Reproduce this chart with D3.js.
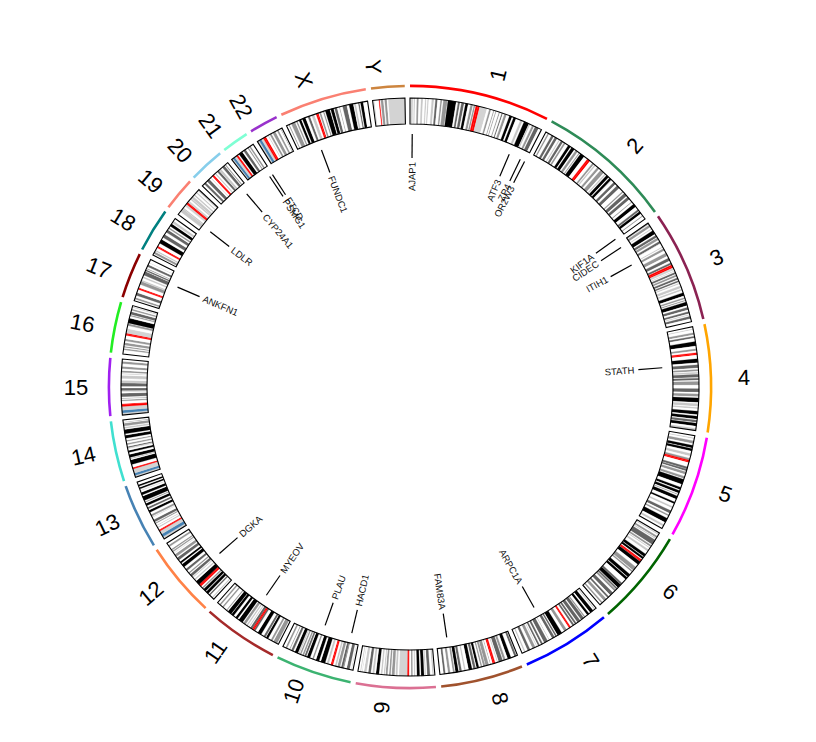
<!DOCTYPE html>
<html><head><meta charset="utf-8">
<script src="https://cdn.jsdelivr.net/npm/d3@7"></script>
<style>html,body{margin:0;padding:0;background:#fff;}</style>
</head><body><svg id="chart" width="816" height="742"></svg>
<script>
// ---------------- DATA ----------------
const chrNames = ["1","2","3","4","5","6","7","8","9","10","11","12","13","14","15","16","17","18","19","20","21","22","X","Y"];
const chrLengths = [249.25,243.2,198.02,191.15,180.92,171.12,159.14,146.36,141.21,135.53,135.01,133.85,115.17,107.35,102.53,90.35,81.2,78.08,59.13,63.03,48.13,51.3,155.27,59.37]; // Mb
const chrColors = ["#FF0000","#2E8B57","#8B2252","#FFA500","#FF00FF","#006400","#0000FF","#A0522D","#DB7093","#3CB371","#A52A2A","#FF8247","#4682B4","#40E0D0","#A020F0","#22EE22","#8B0000","#008080","#FA8072","#87CEEB","#7FFFD4","#9932CC","#FA8072","#CD853F"];

// Cytobands: "endMb+stain" ; n=gneg a=gpos25 b=gpos50 c=gpos75 d=gpos100 A=acen v=gvar s=stalk
const bandsChr1 = "2.3n 5.4a 7.2n 9.2a 12.7n 16.2b 20.4n 23.9a 28n 30.2a 32.4n 34.6a 40.1n 44.1a 46.8n 50.7c 56.1n 59b 61.3n 68.9b 69.7n 84.9d 88.4n 92c 94.7n 99.7c 102.2n 107.2d 111.8n 116.1b 117.8n 120.6b 121.5n 125A 128.9A 142.6v 147n 150.3b 155n 156.5b 159.1n 160.5b 165.5n 167.2b 170.9n 172.9c 176n 180.3b 185.8n 190.8d 193.8n 198.7d 207.2n 211.5a 214.5n 224.1d 224.6n 227a 230.7n 234.7b 236.6n 243.7c 249.25n";
const bandsChr2 = "4.4n 7.1b 12.2n 16.7c 19.2n 24c 27.9n 30a 32.1n 36.6c 38.6n 41.8b 47.8n 52.9d 55n 61.3d 64.1n 68.6b 71.5n 73.5b 75n 83.3d 90.5n 93.3A 96.8A 102.7n 106b 107.5n 110.2a 114.4n 118.8b 122.4n 129.9b 132.5n 135.1a 136.8n 142.2d 144.1n 148.7d 149.9n 150.5a 154.9n 159.8c 163.7n 169.7c 178n 180.6b 183n 189.4c 191.9n 197.4c 203.3n 204.9b 209n 215.3d 221.5n 225.2c 226.1n 231d 235.6n 237.3b 243.2n";
const bandsChr3 = "2.8b 4n 8.7b 11.8n 13.3a 16.4n 23.9d 26.4n 30.9c 32.1n 36.5b 39.4n 43.7c 44.1n 44.2b 50.6n 52.3a 54.4n 58.6b 63.7n 69.8b 74.2n 79.8c 83.5n 87.2c 87.9n 91A 93.9A 98.3v 100n 100.9a 102.8n 106.2c 107.9n 111.3b 113.5n 117.3c 119n 121.9c 123.8n 125.8a 129.2n 133.7a 135.7n 138.7a 142.8n 148.9d 152.1n 155b 157n 159b 160.7n 167.6d 170.9n 175.7c 179n 182.7c 184.5n 186a 187.9n 192.3c 198.02n";
const bandsChr4 = "4.5n 6a 11.3n 15.2b 17.8n 21.3c 27.7n 35.8d 41.2n 44.6b 48.2n 50.4A 52.7A 59.5n 66.6d 70.5n 76.3c 78.9n 82.4b 84.1n 86.9a 88n 93.7c 95.1n 98.8c 101.1n 107.7b 114.1n 120.8c 123.8n 128.8b 131.1n 139.5d 141.5n 146.8a 148.5n 151.1a 155.6n 161.8d 164.5n 170.1d 171.9n 176.3c 177.5n 183.2d 187.1n 191.15a";
const bandsChr5 = "4.5n 6.3a 9.8n 15b 18.4n 23.3d 24.6n 28.9d 33.8n 38.4a 42.5n 46.1b 48.4A 50.7A 58.9n 62.9c 63.2n 66.7c 68.4n 73.3b 76.9n 81.4b 82.8n 92.3d 98.2n 102.8d 104.5n 109.6d 111.5n 113.1b 115.2n 121.4d 127.3n 130.6d 136.2n 139.5a 144.5n 149.8c 152.7n 155.7b 159.9n 168.5d 172.8n 176.6a 180.92n";
const bandsChr6 = "2.3n 4.2a 7.1n 10.6b 11.6n 13.4a 15.2n 25.2c 27n 30.4b 32.1n 33.5a 36.6n 40.5a 46.2n 51.8d 52.9n 57d 58.7n 61A 63.3A 63.4n 70d 75.9n 83.9b 84.9n 88b 93.1n 99.5d 100.6n 105.5d 114.6n 118.3c 118.5n 126.1d 127.1n 130.3c 131.2n 135.2b 139n 145.6c 149n 152.5c 155.5n 161b 164.5n 167.5b 171.12n";
const bandsChr7 = "2.8n 4.5a 7.3n 13.8d 16.5n 20.9d 25.5n 28b 28.8n 35c 37.2n 43.3c 45.4n 49c 50.5n 54c 58n 59.9A 61.7A 67n 72.2b 77.5n 86.4d 88.2n 91.1c 92.8n 98c 103.8n 104.5b 107.4n 114.6c 117.4n 121.1c 123.8n 127.1c 129.2n 130.4a 132.6n 138.2b 143.1n 147.9c 152.6n 155.1a 159.14n";
const bandsChr8 = "2.2n 6.2c 12.7n 19d 23.3n 27.4b 28.8n 36.5c 38.3n 39.7a 43.1n 45.6A 48.1A 52.2n 52.6c 55.5n 61.6b 62.2n 66b 68n 70.5b 73.9n 78.3d 80.1n 84.6c 86.9n 93.3d 99n 101.6a 106.2n 110.5c 112.1n 117.7d 119.2n 122.5b 127.3n 131.5b 136.4n 139.9c 146.36n";
const bandsChr9 = "2.2n 4.6a 9n 14.2c 16.6n 18.5a 19.9n 25.6d 28n 33.2d 36.3n 38.4a 41n 43.6b 47.3n 49A 50.7A 65.9v 68.7n 72.2a 74n 79.2b 81.1n 84.1b 86.9n 90.4b 91.8n 93.9a 96.6n 99.3a 102.6n 108.2d 111.3n 114.9a 117.7n 122.5c 125.8n 130.3a 133.5n 134a 135.9n 137.4a 141.21n";
const bandsChr10 = "3n 3.8a 6.6n 12.2c 17.3n 18.6c 18.7n 22.6c 24.6n 29.6b 31.3n 34.4a 38n 40.2A 42.3A 46.1n 49.9a 52.9n 61.2d 64.5n 70.6d 74.9n 77.7b 82n 87.9d 89.5n 92.9c 94.1n 97b 99.3n 101.9b 103n 104.9a 105.8n 111.9d 114.9n 119.1c 121.7n 123.1b 127.5n 130.6b 135.53n";
const bandsChr11 = "2.8n 10.7b 12.7n 16.2b 21.7n 26.1d 27.2n 31c 36.4n 43.5d 48.8n 51.6c 53.7A 55.7A 59.9c 61.7n 63.4a 65.9n 68.4a 70.4n 75.2b 77.1n 85.6d 88.3n 92.8d 97.2n 102.1d 102.9n 110.4d 112.5n 114.5b 121.2n 123.9b 127.8n 130.8b 135.01n";
const bandsChr12 = "3.3n 5.4a 10.1n 12.8c 14.8n 20d 21.3n 26.5d 27.8n 30.7b 33.3n 35.8A 38.2A 46.4d 49.1n 51.5a 54.9n 56.6a 58.1n 63.1c 65.1n 67.7b 71.5n 75.7c 80.3n 86.7d 89n 92.6d 96.2n 101.6c 103.8n 109b 111.7n 112.3a 114.3n 116.8b 118.1n 120.7b 125.9n 129.3b 133.85n";
const bandsChr13 = "4.5v 10s 16.3v 17.9A 19.5A 23.3n 25.5a 27.8n 28.9a 32.2n 34b 35.5n 40.1c 45.2n 45.8a 47.3n 50.9b 55.3n 59.6d 62.3n 65.7c 68.6n 73.3d 75.4n 77.2b 79n 87.7d 90n 95d 98.2n 99.3a 101.7n 104.8d 107n 110.3d 115.17n";
const bandsChr14 = "3.7v 8.1s 16.1v 17.6A 19.1A 24.6n 33.3d 35.3n 36.6b 37.8n 43.5d 47.2n 50.9d 54.1n 55.5a 56.1n 58.4c 61.6n 64.3b 67.9n 70.2b 73.8n 79.3d 81.9n 89.8d 91.9n 94.7a 96.3n 101.4b 103.2n 104b 107.35n";
const bandsChr15 = "3.9v 8.7s 15.8v 19A 20.7A 25.7n 28.1b 30.3n 31.2b 33.6n 40.1c 42.8n 43.6a 44.8n 49.5c 52.9n 59.1c 59.3n 63.7a 67.2n 67.3a 67.5n 72.7a 75.2n 76.6a 78.3n 81.7b 85.2n 89.1b 94.3n 98.5b 102.53n";
const bandsChr16 = "7.9n 10.5b 12.6n 14.8b 16.8n 21.2b 24.2n 28.1b 34.6n 36.6A 38.6A 47v 52.6n 56.7b 57.4n 66.7d 70.8n 72.9b 74.1n 79.2c 81.7n 84.2b 87.1n 88.7a 90.35n";
const bandsChr17 = "3.3n 6.5b 10.7n 16c 22.2n 24A 25.8A 31.8n 38.1b 38.5n 40.9a 44.9n 47.4a 50.2n 57.6c 58.3n 61.1c 62.6n 64.2b 67.1n 70.9c 74.8n 75.3a 81.2n";
const bandsChr18 = "2.9n 7.1b 8.5n 10.9a 15.4n 17.2A 19A 25n 32.7d 37.2n 43.5c 48.2n 53.8c 56.2n 59b 61.6n 66.8d 68.7n 73.1a 78.08n";
const bandsChr19 = "6.9n 13.9a 14n 16.3a 20n 24.4v 26.5A 28.6A 32.4v 35.5n 38.3a 38.7n 43.4a 45.2n 48a 51.4n 53.6a 56.3n 59.13a";
const bandsChr20 = "5.1n 9.2c 12.1n 17.9c 21.3n 22.3a 25.6n 27.5A 29.4A 32.1n 34.4a 37.6n 41.7c 42.1n 46.4a 49.8n 55c 56.5n 58.4b 63.03n";
const bandsChr21 = "2.8v 6.8s 10.9v 13.2A 14.3A 16.4n 24d 26.8n 31.5c 35.8n 37.8b 39.7n 42.6b 48.13n";
const bandsChr22 = "3.8v 8.3s 12.2v 14.7A 17.9A 22.2n 23.5a 25.9n 29.6b 32.2n 37.6b 41n 44.2b 48.4n 49.4b 51.3n";
const bandsChrX = "4.3n 6b 9.5n 17.1b 19.3n 21.9b 24.9n 29.3d 31.5n 37.6d 42.4n 46.4c 49.8n 54.8a 58.1n 60.6A 63A 64.6n 67.8b 71.8n 73.9b 76n 84.6d 86.2n 91.8d 93.5n 98.3c 102.6n 103.7b 108.7n 116.5c 120.9n 128.7d 130.4n 133.6a 138n 140.3c 142.1n 147.1d 155.27n";
const bandsChrY = "2.5n 3b 11.6n 12.5A 13.4A 15.1n 19.8b 22.1n 26.2b 28.8n 59.37v";
const bandStrings = [bandsChr1,bandsChr2,bandsChr3,bandsChr4,bandsChr5,bandsChr6,bandsChr7,bandsChr8,bandsChr9,bandsChr10,bandsChr11,bandsChr12,bandsChr13,bandsChr14,bandsChr15,bandsChr16,bandsChr17,bandsChr18,bandsChr19,bandsChr20,bandsChr21,bandsChr22,bandsChrX,bandsChrY];
const stainColors = {n:"#FFFFFF", a:"#C8C8C8", b:"#969696", c:"#646464", d:"#000000", A:"#FF0000", v:"#D3D3D3", s:"#4682B4"};

// Gene labels
const geneNames = ["AJAP1","ATF3","ZP4","OR2W3","KIF1A","CIDEC","ITIH1","STATH","ARPC1A","FAM83A","HACD1","PLAU","MYEOV","DGKA","ANKFN1","LDLR","CYP24A1","PSMG1","FTCD","FUNDC1"];
const geneChroms = ["1","1","1","1","2","3","3","4","7","8","10","10","11","12","17","19","20","21","21","X"];
const genePositions = [4.65,212.78,238.05,248.06,241.65,9.91,52.81,70.86,98.92,124.19,17.63,75.67,69.06,56.32,54.23,11.2,52.77,40.55,47.56,44.38]; // Mb

// ---------------- LAYOUT ----------------
const cx = 410, cy = 387;
const rBandIn = 263, rBandOut = 289;
const rHiIn = 299.8, rHiOut = 302.4;
const rConnOut = 253, rConnIn = 229, rGeneText = 225;
const rLab = 321, labShift = 13;
const gapDeg = 1;
const toRad = Math.PI/180;

const degPerMb = (360 - gapDeg*chrLengths.length) / d3.sum(chrLengths);
let acc = 0;
const chroms = chrNames.map((name,i)=>{
  const start = acc; acc += chrLengths[i]*degPerMb; const end = acc; acc += gapDeg;
  const scale = d3.scaleLinear().domain([0, chrLengths[i]]).range([start*toRad, end*toRad]);
  const bands = [];
  let prev = 0;
  bandStrings[i].trim().split(/\s+/).forEach(tok=>{
    const m = tok.match(/^([\d.]+)([A-Za-z])$/);
    const e = +m[1];
    bands.push({s:prev, e:e, stain:m[2]});
    prev = e;
  });
  return {name, len:chrLengths[i], color:chrColors[i], scale, bands};
});
const chromByName = new Map(chroms.map(c=>[c.name,c]));

const svg = d3.select("#chart");
const g = svg.append("g").attr("transform",`translate(${cx},${cy})`);

const bandArc = d3.arc().innerRadius(rBandIn).outerRadius(rBandOut);
const hiArc = d3.arc().innerRadius(rHiIn).outerRadius(rHiOut);

// bands
chroms.forEach(c=>{
  const cg = g.append("g");
  cg.selectAll("path.band").data(c.bands).join("path")
    .attr("class","band")
    .attr("d", b=>bandArc({startAngle:c.scale(b.s), endAngle:c.scale(b.e)}))
    .attr("fill", b=>stainColors[b.stain])
    .attr("stroke", b=>stainColors[b.stain])
    .attr("stroke-width", 0.25);
  cg.append("path")
    .attr("d", bandArc({startAngle:c.scale(0), endAngle:c.scale(c.len)}))
    .attr("fill","none").attr("stroke","#000").attr("stroke-width",1.1);
  // highlight arcs
  g.append("path")
    .attr("d", hiArc({startAngle:c.scale(0), endAngle:c.scale(c.len)}))
    .attr("fill", c.color);
});

// chromosome names
chroms.forEach(c=>{
  const th = (c.scale(0)+c.scale(c.len))/2;
  const deg = th/toRad;
  const right = deg < 180;
  const x = rLab*Math.sin(th) + (right?1:-1)*labShift;
  const y = -rLab*Math.cos(th);
  const rot = right ? deg-90 : deg-270;
  g.append("text")
    .attr("transform",`translate(${x},${y}) rotate(${rot})`)
    .attr("text-anchor","middle")
    .attr("dominant-baseline","central")
    .attr("font-family","'Liberation Sans', Arial, sans-serif")
    .attr("font-size",22)
    .attr("fill","#000")
    .text(c.name);
});

// genes
geneNames.forEach((name,i)=>{
  const c = chromByName.get(geneChroms[i]);
  const th = c.scale(genePositions[i]);
  const deg = th/toRad;
  const right = deg < 180;
  const s = Math.sin(th), co = -Math.cos(th);
  g.append("line")
    .attr("x1", rConnOut*s).attr("y1", rConnOut*co)
    .attr("x2", rConnIn*s).attr("y2", rConnIn*co)
    .attr("stroke","#000").attr("stroke-width",1.2);
  const rot = right ? deg-90 : deg-270;
  g.append("text")
    .attr("transform",`translate(${rGeneText*s},${rGeneText*co}) rotate(${rot})`)
    .attr("text-anchor", right ? "end" : "start")
    .attr("dominant-baseline","central")
    .attr("font-family","'Liberation Sans', Arial, sans-serif")
    .attr("font-size",9.5)
    .attr("fill","#111")
    .text(name);
});
</script>
</body></html>
